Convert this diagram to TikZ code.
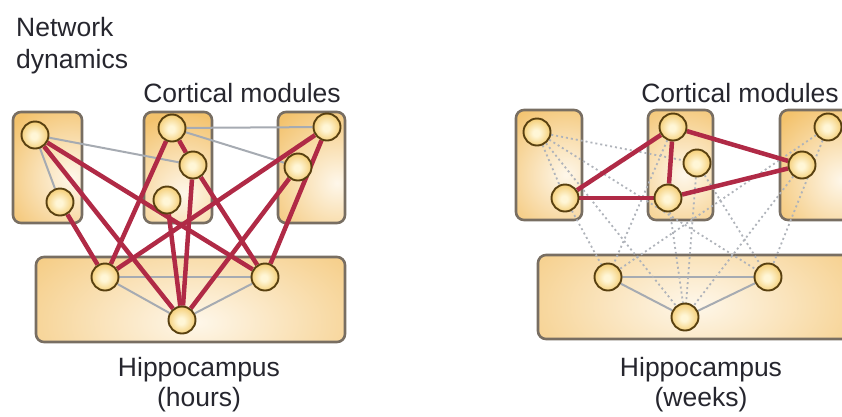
\documentclass[tikz,border=0pt]{standalone}
\usepackage{fontspec}
\setmainfont{Liberation Sans}
\usepackage{xcolor}
\usepackage{tikz}

\definecolor{boxorange}{RGB}{243,194,108}
\definecolor{boxglow}{RGB}{254,247,234}
\definecolor{boxline}{RGB}{120,110,98}
\definecolor{ballout}{RGB}{240,190,80}
\definecolor{ballin}{RGB}{255,246,214}
\definecolor{ballline}{RGB}{88,64,16}
\definecolor{linkred}{RGB}{176,42,70}
\definecolor{linkgray}{RGB}{166,171,178}
\definecolor{txt}{RGB}{38,38,46}

\pgfdeclareradialshading{neuronshade}{\pgfpoint{-2bp}{-2bp}}{color(0bp)=(ballin); color(6bp)=(ballin); color(34bp)=(ballout); color(50bp)=(ballout)}

\pgfdeclarelayer{boxes}
\pgfdeclarelayer{links}
\pgfsetlayers{boxes,links,main}

\tikzset{
    module/.style={draw=boxline, line width=2.6pt, rounded corners=8pt, fill=boxorange},
    neuron/.style={circle, draw=ballline, line width=1.9pt, minimum size=27pt, inner sep=0pt, shade, shading=neuronshade},
    strong/.style={draw=linkred, line width=4.5pt},
    weak/.style={draw=linkgray, line width=2pt},
    faded/.style={draw=linkgray!90, line width=1.8pt, dash pattern=on 2pt off 3pt},
    heading/.style={font=\fontsize{26.5}{30}\selectfont, text=txt, inner sep=0pt}
}

\begin{document}
\begin{tikzpicture}[x=1pt, y=-1pt]
    \useasboundingbox (0,0) rectangle (842,416);

    % 1. Texte
    \node[heading, anchor=base west] (net) at (16,36) {Network};
    \node[heading, anchor=base west] (dyn) at (16,68) {dynamics};
    \node[heading, anchor=base] (hctx) at (242,102) {Cortical modules};
    \node[heading, anchor=base] (hhip) at (199,376) {Hippocampus};
    \node[heading, anchor=base] (hhrs) at (199,406) {(hours)};
    \node[heading, anchor=base] (wctx) at (740,102) {Cortical modules};
    \node[heading, anchor=base] (whip) at (701,376) {Hippocampus};
    \node[heading, anchor=base] (wwks) at (701,406) {(weeks)};

    % 2. Module (Kortex oben, Hippocampus unten)
    \begin{pgfonlayer}{boxes}
        \foreach \xa/\ya/\xb/\yb/\gx/\gy/\rx/\ry in {
            13/112/82/223/72/178/80/80, 144/112/212/223/184/195/80/80,
            278/112/345/223/337/183/85/85, 36/257/345/342/196/322/250/130,
            516/110/582/220/566/175/80/80, 648/110/713/220/684/175/80/80,
            780/110/852/220/842/180/85/85, 538/255/852/339/695/305/250/130} {
            \draw[module, path picture={\shade[inner color=boxglow, outer color=boxorange] (\gx,\gy) ellipse ({\rx} and {\ry});}]
                (\xa,\ya) rectangle (\xb,\yb);
        }
    \end{pgfonlayer}

    % 3. Neuronen: links nach Stunden, rechts nach Wochen
    \foreach \p/\x/\y in {L1/35/135, L2/60/202, M1/172/128, M2/193/165, M3/167/200,
                          R1/327/127, R2/298/167, H1/105/277, H2/265/277, H3/182/320} {
        \node[neuron] (h\p) at (\x,\y) {};
    }
    \foreach \p/\x/\y in {L1/537/132, L2/565/198, M1/673/127, M2/697/163, M3/668/198,
                          R1/828/127, R2/802/165, H1/608/277, H2/768/277, H3/685/317} {
        \node[neuron] (w\p) at (\x,\y) {};
    }

    % 4. Verbindungen
    \begin{pgfonlayer}{links}
        \foreach \a/\b in {L1/L2, L1/M2, M1/R1, M1/R2, H1/H2, H1/H3, H2/H3}
            \draw[weak] (h\a) -- (h\b);
        \foreach \a/\b in {L1/H3, L1/H2, L2/H1, M1/H1, M1/M2, M2/H2, M2/H3,
                           M3/H3, R1/H1, R1/H2, R2/H3}
            \draw[strong] (h\a) -- (h\b);

        \foreach \a/\b in {H1/H2, H1/H3, H2/H3}
            \draw[weak] (w\a) -- (w\b);
        \foreach \a/\b in {L1/L2, L1/M2, L1/H3, L1/H2, L2/H1, M1/H1, M2/H2, M2/H3,
                           M3/H3, R1/H1, R1/H2, R2/H3}
            \draw[faded] (w\a) -- (w\b);
        \foreach \a/\b in {L2/M1, L2/M3, M1/M3, M1/R2, M3/R2}
            \draw[strong] (w\a) -- (w\b);
    \end{pgfonlayer}
\end{tikzpicture}
\end{document}
